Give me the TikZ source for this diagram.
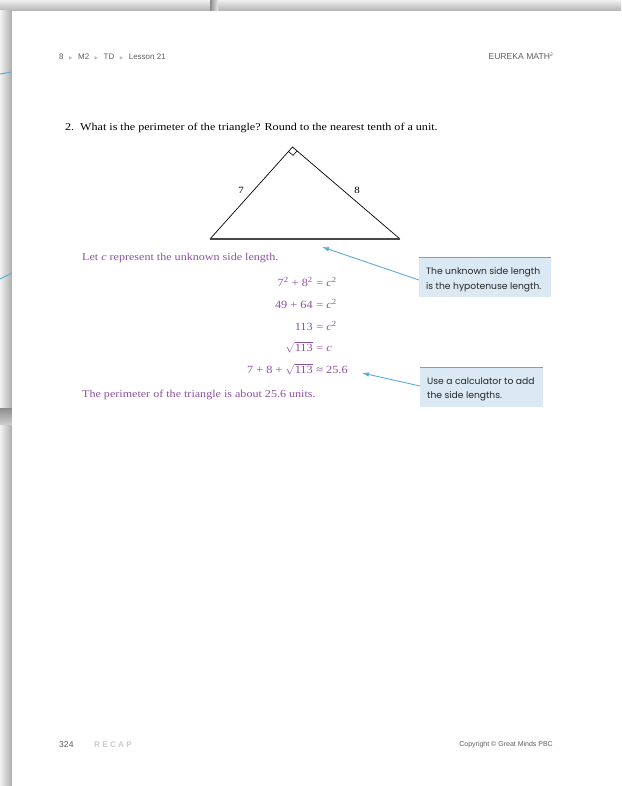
\documentclass[tikz,border=0pt]{standalone}
\usepackage{fontspec}
\setmainfont{Liberation Serif}[FakeStretch=1.15]
\newfontfamily\eqfont{Liberation Serif}[FakeStretch=1.12]
\newfontfamily\hdrfont{Liberation Sans}
\newfontfamily\recapfont{Liberation Sans}[LetterSpace=26]
\newfontfamily\callfont{Poppins}
\newfontfamily\symfont{DejaVu Sans}
\usetikzlibrary{arrows.meta,calc,shadings}
\definecolor{purp}{RGB}{142,80,162}
\definecolor{callblue}{RGB}{91,172,214}
\definecolor{callfill}{RGB}{218,233,243}
\definecolor{hdrgray}{RGB}{95,95,95}
\definecolor{sepgray}{RGB}{185,185,185}
\newcommand{\hsep}{\hspace{5.5pt}{\color{sepgray}\symfont\fontsize{4.5}{5}\selectfont ▶}\hspace{5.5pt}}
\newcommand{\sq}[1]{\textsuperscript{\fontsize{7.8}{8}\selectfont #1}}
\newcommand{\rt}[1]{$\sqrt{\hbox{\eqfont #1}}$}
\tikzset{
  hdr/.style={font=\hdrfont\fontsize{8}{9}\selectfont, text=hdrgray, inner sep=0pt},
  qtext/.style={font=\fontsize{10.5}{12}\selectfont, inner sep=0pt},
  ptext/.style={font=\fontsize{10.5}{12}\selectfont, text=purp, inner sep=0pt},
  eqn/.style={font=\eqfont\fontsize{11}{12}\selectfont, text=purp, inner sep=0pt},
  lbl/.style={font=\fontsize{9.5}{10}\selectfont, inner sep=0pt},
  callbox/.style={fill=callfill, draw=none, anchor=north west, inner sep=0pt},
  calltext/.style={anchor=north west, align=left, inner sep=0pt,
    font=\callfont\fontsize{9.2}{14.5}\selectfont, text=black!85},
  boxtop/.style={draw=callblue, line width=0.9pt},
  callarrow/.style={draw=callblue, line width=0.9pt, -{Latex[length=7pt,width=4.5pt]}},
  leg/.style={draw=black, line width=0.7pt, line join=miter},
  base/.style={draw=black!72, line width=1.6pt},
}
\begin{document}
\begin{tikzpicture}[x=1pt,y=-1pt]
\useasboundingbox (0,0) rectangle (621,786);
% ---- pages behind ----
\shade[top color=black!6, bottom color=black!30] (0,0) rectangle (621,11);
\shade[left color=black!45, right color=black!8] (210,0) rectangle (218,11);
\shade[left color=black!5, right color=black!33] (0,11) rectangle (12,786);
\shade[top color=black!45, bottom color=black!20] (0,408) rectangle (12,424);
\draw[callblue, line width=1pt] (0,74) -- (12,72);
\draw[callblue, line width=1pt] (0,279) -- (12,273);
% ---- main page ----
\fill[white] (12,11) rectangle (621,786);
% header
\node[hdr, anchor=base west] (h1) at (59,60) {8\hsep M2\hsep TD\hsep Lesson 21};
\node[hdr, anchor=base east, font=\hdrfont\fontsize{8.6}{9}\selectfont] (h2) at (553,60) {EUREKA MATH\raisebox{3.5pt}{\fontsize{5}{5}\selectfont 2}};
% question
\node[qtext, anchor=base west] (q) at (65,130.5) {2.\hspace{6pt}What is the perimeter of the triangle? Round to the nearest tenth of a unit.};
% triangle
\coordinate (A) at (210,239);
\coordinate (B) at (400,239);
\coordinate (C) at (292.5,147);
\draw[leg] (A) -- (C) -- (B);
\draw[base] (A) -- (B);
\draw[line width=0.6pt] ($(C)!6pt!(A)$) -- ($($(C)!6pt!(A)$)+($(C)!6pt!(B)$)-(C)$) -- ($(C)!6pt!(B)$);
\node[lbl] (l7) at (241,190) {7};
\node[lbl] (l8) at (357,190) {8};
% solution
\node[ptext, anchor=base west] (let) at (82,260.5) {Let \textit{c} represent the unknown side length.};
\node[eqn, anchor=base east] (e1l) at (313,286.5) {7\sq{2} + 8\sq{2}};
\node[eqn, anchor=base west] (e1r) at (313,286.5) {\ = \textit{c}\sq{2}};
\node[eqn, anchor=base east] (e2l) at (313,308.5) {49 + 64};
\node[eqn, anchor=base west] (e2r) at (313,308.5) {\ = \textit{c}\sq{2}};
\node[eqn, anchor=base east] (e3l) at (313,330.5) {113};
\node[eqn, anchor=base west] (e3r) at (313,330.5) {\ = \textit{c}\sq{2}};
\node[eqn, anchor=base east] (e4l) at (313,351.5) {\rt{113}};
\node[eqn, anchor=base west] (e4r) at (313,351.5) {\ = \textit{c}};
\node[eqn, anchor=base east] (e5l) at (313,373.5) {7 + 8 + \rt{113}};
\node[eqn, anchor=base west] (e5r) at (313,373.5) {\ ≈ 25.6};
\node[ptext, anchor=base west] (concl) at (82,397.5) {The perimeter of the triangle is about 25.6 units.};
% callouts
\node[callbox, minimum width=132pt, minimum height=40pt] (b1) at (419,257) {};
\draw[boxtop] (b1.north west) -- (b1.north east);
\node[calltext] (b1t) at ($(b1.north west)+(7,10.5)$) {The unknown side length\\is the hypotenuse length.};
\node[callbox, minimum width=123pt, minimum height=40pt] (b2) at (420,367) {};
\draw[boxtop] (b2.north west) -- (b2.north east);
\node[calltext] (b2t) at ($(b2.north west)+(7,10)$) {Use a calculator to add\\the side lengths.};
\coordinate (t1) at (322,247);
\coordinate (t2) at (362,373);
\draw[callarrow] ($(b1.north west)+(0,23)$) -- (t1);
\draw[callarrow] ($(b2.north west)+(0,19)$) -- (t2);
% footer
\node[hdr, anchor=base west, font=\hdrfont\fontsize{8.6}{9}\selectfont] (pg) at (59,747.5) {324};
\node[anchor=base west, inner sep=0pt, text=black!20, font=\recapfont\bfseries\fontsize{8.3}{9}\selectfont] (rc) at (94,747.5) {RECAP};
\node[hdr, anchor=base east, font=\hdrfont\fontsize{7}{8}\selectfont] (cp) at (553,746.5) {Copyright © Great Minds PBC};
\end{tikzpicture}
\end{document}
